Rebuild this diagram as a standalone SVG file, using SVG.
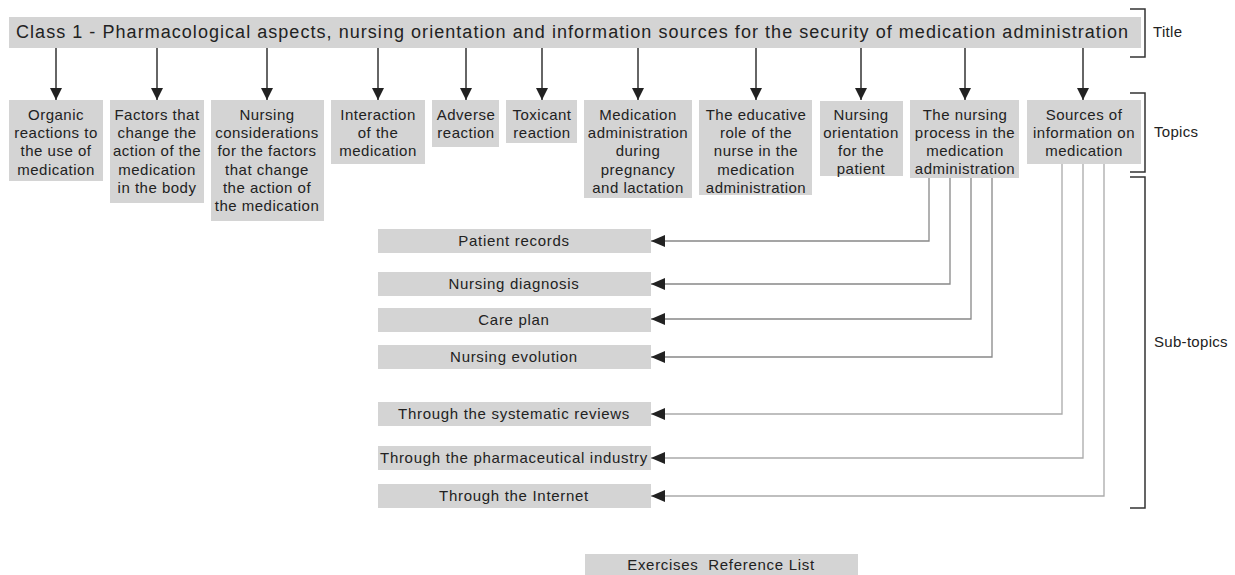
<svg xmlns="http://www.w3.org/2000/svg" width="1235" height="575" viewBox="0 0 1235 575">
<style>
.box{fill:#d4d4d4}
.t{font-family:"Liberation Sans",Arial,sans-serif;font-size:15px;fill:#222;text-anchor:middle;letter-spacing:0.5px}
.s{font-family:"Liberation Sans",Arial,sans-serif;font-size:15px;fill:#222;text-anchor:middle;letter-spacing:0.7px}
.lbl{font-family:"Liberation Sans",Arial,sans-serif;font-size:15px;fill:#222;letter-spacing:0.3px}
.down{stroke:#333;stroke-width:1.5;fill:none}
.sub1{stroke:#888;stroke-width:1.3;fill:none}
.sub2{stroke:#aaa;stroke-width:1.3;fill:none}
.br{stroke:#333;stroke-width:1.5;fill:none}
</style>
<defs>
<marker id="ad" markerUnits="userSpaceOnUse" markerWidth="12" markerHeight="12" refX="12" refY="6" orient="auto" viewBox="0 0 12 12">
<path d="M0,0 L12,6 L0,12 z" fill="#222"/>
</marker>
<marker id="al" markerUnits="userSpaceOnUse" markerWidth="14" markerHeight="12" refX="14" refY="6" orient="auto" viewBox="0 0 14 12">
<path d="M0,0 L14,6 L0,12 z" fill="#222"/>
</marker>
</defs>

<g id="title">
<rect class="box" x="9" y="17" width="1132" height="31"/>
<text x="16" y="38" font-family="'Liberation Sans',Arial,sans-serif" font-size="18" fill="#222" textLength="1112" lengthAdjust="spacing">Class 1 - Pharmacological aspects, nursing orientation and information sources for the security of medication administration</text>
</g>

<g id="connectors">
<line class="down" x1="56" y1="48" x2="56" y2="100" marker-end="url(#ad)"/>
<line class="down" x1="157" y1="48" x2="157" y2="100" marker-end="url(#ad)"/>
<line class="down" x1="267" y1="48" x2="267" y2="100" marker-end="url(#ad)"/>
<line class="down" x1="378" y1="48" x2="378" y2="100" marker-end="url(#ad)"/>
<line class="down" x1="466" y1="48" x2="466" y2="100" marker-end="url(#ad)"/>
<line class="down" x1="542" y1="48" x2="542" y2="100" marker-end="url(#ad)"/>
<line class="down" x1="638" y1="48" x2="638" y2="100" marker-end="url(#ad)"/>
<line class="down" x1="756" y1="48" x2="756" y2="100" marker-end="url(#ad)"/>
<line class="down" x1="861" y1="48" x2="861" y2="100" marker-end="url(#ad)"/>
<line class="down" x1="965" y1="48" x2="965" y2="100" marker-end="url(#ad)"/>
<line class="down" x1="1083" y1="48" x2="1083" y2="100" marker-end="url(#ad)"/>
<polyline class="sub1" points="929,178 929,241 651,241" marker-end="url(#al)"/>
<polyline class="sub1" points="950,178 950,284 651,284" marker-end="url(#al)"/>
<polyline class="sub1" points="971,178 971,319 651,319" marker-end="url(#al)"/>
<polyline class="sub1" points="992,178 992,357 651,357" marker-end="url(#al)"/>
<polyline class="sub2" points="1062,164 1062,414 651,414" marker-end="url(#al)"/>
<polyline class="sub2" points="1083,164 1083,458 651,458" marker-end="url(#al)"/>
<polyline class="sub2" points="1104,164 1104,496 651,496" marker-end="url(#al)"/>
</g>

<g id="topic1">
<rect class="box" x="9" y="100" width="94" height="81"/>
<text class="t" x="56" y="120">Organic</text>
<text class="t" x="56" y="138">reactions to</text>
<text class="t" x="56" y="156">the use of</text>
<text class="t" x="56" y="175">medication</text>
</g>
<g id="topic2">
<rect class="box" x="110" y="100" width="94" height="103"/>
<text class="t" x="157" y="120">Factors that</text>
<text class="t" x="157" y="138">change the</text>
<text class="t" x="157" y="156">action of the</text>
<text class="t" x="157" y="175">medication</text>
<text class="t" x="157" y="193">in the body</text>
</g>
<g id="topic3">
<rect class="box" x="211" y="100" width="113" height="121"/>
<text class="t" x="267" y="120">Nursing</text>
<text class="t" x="267" y="138">considerations</text>
<text class="t" x="267" y="156">for the factors</text>
<text class="t" x="267" y="175">that change</text>
<text class="t" x="267" y="193">the action of</text>
<text class="t" x="267" y="211">the medication</text>
</g>
<g id="topic4">
<rect class="box" x="331" y="100" width="94" height="64"/>
<text class="t" x="378" y="120">Interaction</text>
<text class="t" x="378" y="138">of the</text>
<text class="t" x="378" y="156">medication</text>
</g>
<g id="topic5">
<rect class="box" x="432" y="100" width="67" height="47"/>
<text class="t" x="466" y="120">Adverse</text>
<text class="t" x="466" y="138">reaction</text>
</g>
<g id="topic6">
<rect class="box" x="506" y="100" width="71" height="43"/>
<text class="t" x="542" y="120">Toxicant</text>
<text class="t" x="542" y="138">reaction</text>
</g>
<g id="topic7">
<rect class="box" x="584" y="100" width="108" height="98"/>
<text class="t" x="638" y="120">Medication</text>
<text class="t" x="638" y="138">administration</text>
<text class="t" x="638" y="156">during</text>
<text class="t" x="638" y="175">pregnancy</text>
<text class="t" x="638" y="193">and lactation</text>
</g>
<g id="topic8">
<rect class="box" x="699" y="100" width="113" height="95"/>
<text class="t" x="756" y="120">The educative</text>
<text class="t" x="756" y="138">role of the</text>
<text class="t" x="756" y="156">nurse in the</text>
<text class="t" x="756" y="175">medication</text>
<text class="t" x="756" y="193">administration</text>
</g>
<g id="topic9">
<rect class="box" x="820" y="101" width="83" height="75"/>
<text class="t" x="861" y="120">Nursing</text>
<text class="t" x="861" y="138">orientation</text>
<text class="t" x="861" y="156">for the</text>
<text class="t" x="861" y="174">patient</text>
</g>
<g id="topic10">
<rect class="box" x="910" y="100" width="109" height="78"/>
<text class="t" x="965" y="120">The nursing</text>
<text class="t" x="965" y="138">process in the</text>
<text class="t" x="965" y="156">medication</text>
<text class="t" x="965" y="174">administration</text>
</g>
<g id="topic11">
<rect class="box" x="1027" y="100" width="114" height="64"/>
<text class="t" x="1084" y="120">Sources of</text>
<text class="t" x="1084" y="138">information on</text>
<text class="t" x="1084" y="156">medication</text>
</g>

<g id="sub1">
<rect class="box" x="378" y="229" width="273" height="24"/>
<text class="s" x="514" y="246">Patient records</text>
</g>
<g id="sub2">
<rect class="box" x="378" y="272" width="273" height="24"/>
<text class="s" x="514" y="289">Nursing diagnosis</text>
</g>
<g id="sub3">
<rect class="box" x="378" y="308" width="273" height="24"/>
<text class="s" x="514" y="325">Care plan</text>
</g>
<g id="sub4">
<rect class="box" x="378" y="345" width="273" height="24"/>
<text class="s" x="514" y="362">Nursing evolution</text>
</g>
<g id="sub5">
<rect class="box" x="378" y="402" width="273" height="24"/>
<text class="s" x="514" y="419">Through the systematic reviews</text>
</g>
<g id="sub6">
<rect class="box" x="378" y="446" width="273" height="24"/>
<text class="s" x="514" y="463">Through the pharmaceutical industry</text>
</g>
<g id="sub7">
<rect class="box" x="378" y="484" width="273" height="24"/>
<text class="s" x="514" y="501">Through the Internet</text>
</g>

<g id="exercises">
<rect class="box" x="585" y="554" width="273" height="21"/>
<text class="s" x="721" y="570" xml:space="preserve">Exercises  Reference List</text>
</g>

<g id="brackets">
<polyline class="br" points="1130,9 1145,9 1145,57 1130,57"/>
<text class="lbl" x="1153" y="37">Title</text>
<polyline class="br" points="1130,93 1145,93 1145,172 1130,172"/>
<text class="lbl" x="1154" y="137">Topics</text>
<polyline class="br" points="1130,177 1145,177 1145,508 1130,508"/>
<text class="lbl" x="1154" y="347">Sub-topics</text>
</g>
</svg>
